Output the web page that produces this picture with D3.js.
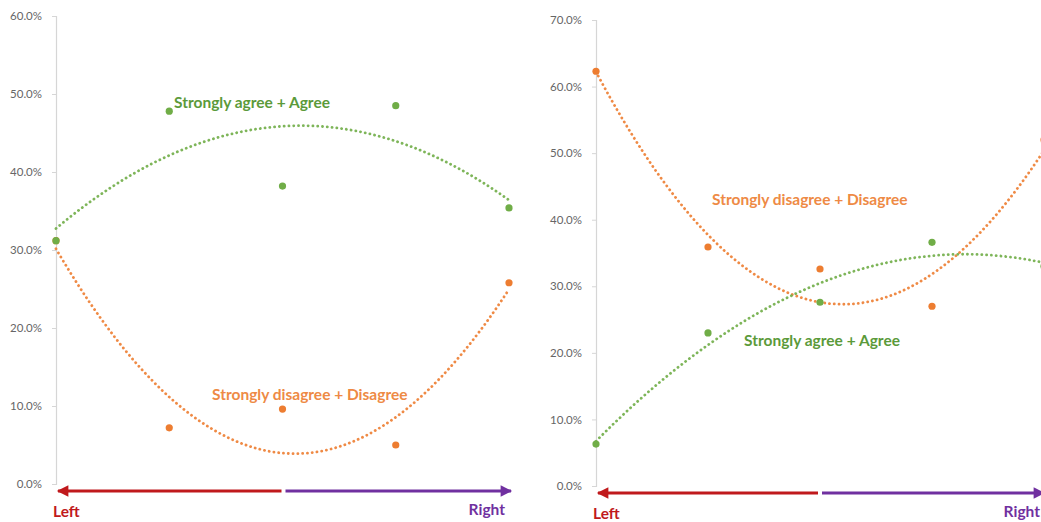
<!DOCTYPE html>
<html>
<head>
<meta charset="utf-8">
<script src="https://cdn.jsdelivr.net/npm/d3@7"></script>
<style>
  html, body { margin: 0; padding: 0; background: #fff; }
  svg { display: block; font-family: Lato, "Open Sans", "Liberation Sans", sans-serif; }
</style>
</head>
<body>
<svg id="chart" width="1041" height="522"></svg>
<script>
// Positions along the political spectrum (1 = far left, 5 = far right)
const positions = [1, 2, 3, 4, 5];

// Left panel: share of respondents (%)
const leftAgree    = [31.2, 47.8, 38.2, 48.5, 35.4];
const leftDisagree = [31.2, 7.2, 9.6, 5.0, 25.8];

// Right panel: share of respondents (%)
const rightAgree    = [6.3, 23.0, 27.6, 36.6, 33.0];
const rightDisagree = [62.3, 35.9, 32.6, 27.0, 52.0];

// Tick labels
const leftTicks  = [0, 10, 20, 30, 40, 50, 60];
const rightTicks = [0, 10, 20, 30, 40, 50, 60, 70];

const seriesNames = ["Strongly agree + Agree", "Strongly disagree + Disagree"];
const endLabels = ["Left", "Right"];

const GREEN = "#70ad47", GREEN_TEXT = "#5b9a3a";
const ORANGE = "#ed7d31", ORANGE_TEXT = "#ee8a45";
const RED = "#c0191c", PURPLE = "#7030a0";

const svg = d3.select("#chart");
const defs = svg.append("defs");
defs.append("marker").attr("id", "headRed").attr("viewBox", "0 0 10 10")
  .attr("refX", 9).attr("refY", 5).attr("markerWidth", 4).attr("markerHeight", 3.6)
  .attr("orient", "auto").attr("markerUnits", "strokeWidth")
  .append("path").attr("d", "M0,0 L10,5 L0,10 z").attr("fill", RED);
defs.append("marker").attr("id", "headPurple").attr("viewBox", "0 0 10 10")
  .attr("refX", 9).attr("refY", 5).attr("markerWidth", 4).attr("markerHeight", 3.6)
  .attr("orient", "auto").attr("markerUnits", "strokeWidth")
  .append("path").attr("d", "M0,0 L10,5 L0,10 z").attr("fill", PURPLE);

// Least-squares second-order polynomial fit, returns f(x)
function polyFit2(xs, ys) {
  const n = xs.length;
  let s = [0, 0, 0, 0, 0], t = [0, 0, 0];
  for (let i = 0; i < n; i++) {
    const x = xs[i], y = ys[i];
    for (let k = 0; k < 5; k++) s[k] += Math.pow(x, k);
    for (let k = 0; k < 3; k++) t[k] += y * Math.pow(x, k);
  }
  // Solve normal equations 3x3 via Cramer's rule
  const A = [[s[0], s[1], s[2]], [s[1], s[2], s[3]], [s[2], s[3], s[4]]];
  const det3 = m => m[0][0]*(m[1][1]*m[2][2]-m[1][2]*m[2][1])
                  - m[0][1]*(m[1][0]*m[2][2]-m[1][2]*m[2][0])
                  + m[0][2]*(m[1][0]*m[2][1]-m[1][1]*m[2][0]);
  const D = det3(A);
  const coef = [0, 1, 2].map(c => {
    const M = A.map((row, r) => row.map((v, j) => j === c ? t[r] : v));
    return det3(M) / D;
  });
  return x => coef[0] + coef[1]*x + coef[2]*x*x;
}

function panel(cfg) {
  const g = svg.append("g");
  const x = d3.scaleLinear().domain([1, 5]).range([cfg.x0, cfg.x1]);
  const y = d3.scaleLinear().domain([0, cfg.yMax]).range([cfg.yBottom, cfg.yTop]);

  // Vertical value axis
  const axis = d3.axisLeft(y).tickValues(cfg.ticks)
    .tickFormat(d => d.toFixed(1) + "%").tickSize(4).tickPadding(10);
  const ax = g.append("g").attr("transform", `translate(${cfg.x0},0)`).call(axis);
  ax.select(".domain").attr("stroke", "#d6d6d6").attr("stroke-width", 1.2);
  ax.selectAll(".tick line").attr("stroke", "#d6d6d6");
  ax.selectAll(".tick text").attr("fill", "#666").attr("font-size", 11.5)
    .attr("font-family", "Lato, 'Open Sans', sans-serif");

  // Trendlines
  const fine = d3.range(1, 5.0001, 0.02);
  const line = d3.line().x(d => x(d[0])).y(d => y(d[1])).curve(d3.curveLinear);
  const series = [
    { vals: cfg.disagree, color: ORANGE },
    { vals: cfg.agree, color: GREEN }
  ];
  series.forEach(s => {
    const f = polyFit2(positions, s.vals);
    g.append("path").datum(fine.map(v => [v, f(v)]))
      .attr("d", line).attr("fill", "none").attr("stroke", s.color)
      .attr("stroke-width", 2.8).attr("stroke-linecap", "round")
      .attr("stroke-dasharray", "0.1 4.7").attr("opacity", 0.9);
  });
  // Data points
  series.forEach(s => {
    g.selectAll(null).data(positions).enter().append("circle")
      .attr("cx", d => x(d)).attr("cy", (d, i) => y(s.vals[i]))
      .attr("r", 3.6).attr("fill", s.color);
  });

  // Series labels
  cfg.labels.forEach(l => {
    g.append("text").attr("x", l.x).attr("y", l.y).text(l.text)
      .attr("fill", l.color).attr("font-weight", 700).attr("font-size", 15.5);
  });

  // Left / right direction arrows
  const mid = (cfg.x0 + cfg.arrowEnd) / 2;
  g.append("line").attr("x1", mid - 2).attr("x2", cfg.x0 + 2)
    .attr("y1", cfg.arrowY).attr("y2", cfg.arrowY)
    .attr("stroke", RED).attr("stroke-width", 3.2).attr("marker-end", "url(#headRed)");
  g.append("line").attr("x1", mid + 2).attr("x2", cfg.arrowEnd)
    .attr("y1", cfg.arrowY).attr("y2", cfg.arrowY)
    .attr("stroke", PURPLE).attr("stroke-width", 3.2).attr("marker-end", "url(#headPurple)");
  g.append("text").attr("x", cfg.x0 - 3).attr("y", cfg.arrowY + 26).text(endLabels[0])
    .attr("fill", RED).attr("font-weight", 700).attr("font-size", 15.5);
  g.append("text").attr("x", cfg.rightLabelX).attr("y", cfg.arrowY + 24).text(endLabels[1])
    .attr("fill", PURPLE).attr("font-weight", 700).attr("font-size", 15.5)
    .attr("text-anchor", "end");
}

panel({
  x0: 56, x1: 509, yTop: 16, yBottom: 484, yMax: 60, ticks: leftTicks,
  agree: leftAgree, disagree: leftDisagree,
  arrowY: 491, arrowEnd: 511, rightLabelX: 505,
  labels: [
    { text: seriesNames[0], x: 174, y: 108, color: GREEN_TEXT },
    { text: seriesNames[1], x: 212, y: 400, color: ORANGE_TEXT }
  ]
});

panel({
  x0: 596, x1: 1044, yTop: 20, yBottom: 486, yMax: 70, ticks: rightTicks,
  agree: rightAgree, disagree: rightDisagree,
  arrowY: 493, arrowEnd: 1044, rightLabelX: 1040,
  labels: [
    { text: seriesNames[1], x: 712, y: 205, color: ORANGE_TEXT },
    { text: seriesNames[0], x: 744, y: 346, color: GREEN_TEXT }
  ]
});
</script>
</body>
</html>
